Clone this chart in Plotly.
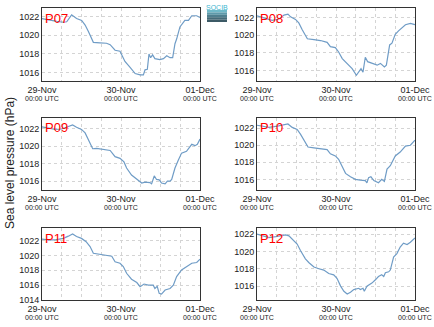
import plotly.graph_objects as go
import pandas as pd

start = pd.Timestamp("2015-11-29 00:00")

stations = ["P07", "P08", "P09", "P10", "P11", "P12"]

# hours since 29-Nov 00:00 UTC and sea level pressure (hPa)
p07_h = [0, 2.4, 4.5, 6.5, 7.5, 9.0, 10.5, 12.05, 13.1, 14.1, 15.1, 15.6, 17.6, 19.6, 20.7, 22.2, 23.7, 25.2, 26.7, 28.3, 29.8, 30.8, 31.3, 32.0, 32.5, 33.0, 33.6, 34.3, 35.8, 36.9, 37.9, 38.9, 39.7, 40.4, 40.9, 41.9, 43.4, 44.5, 45.5, 47.0, 48]
p07_p = [1021.8, 1021.6, 1021.5, 1021.4, 1021.45, 1022.2, 1021.8, 1021.6, 1021.1, 1020.4, 1019.7, 1019.25, 1019.2, 1019.15, 1019.0, 1018.4, 1018.3, 1017.2, 1016.6, 1015.9, 1015.75, 1015.75, 1016.3, 1016.35, 1018.0, 1017.6, 1017.9, 1017.5, 1017.4, 1017.5, 1017.8, 1017.6, 1017.6, 1019.1, 1019.6, 1020.9, 1021.6, 1021.6, 1022.1, 1022.1, 1021.9]

p08_h = [0, 1.6, 3.1, 4.6, 6.7, 8.2, 9.4, 10.2, 11.7, 12.7, 13.7, 15.3, 17.3, 19.3, 21.3, 22.3, 23.8, 24.8, 25.9, 27.4, 28.9, 30.2, 30.9, 31.6, 32.2, 32.9, 33.6, 34.9, 36.5, 37.5, 38.7, 39.3, 40.3, 41.0, 42.0, 43.0, 44.0, 45.1, 46.6, 48]
p08_p = [1022.2, 1022.0, 1021.8, 1021.7, 1021.85, 1022.3, 1022.4, 1022.1, 1021.8, 1021.4, 1020.65, 1019.6, 1019.5, 1019.4, 1019.2, 1018.7, 1018.6, 1018.1, 1017.35, 1016.8, 1016.2, 1015.45, 1015.8, 1016.2, 1015.8, 1017.5, 1017.0, 1016.85, 1016.6, 1016.8, 1016.4, 1016.6, 1018.9, 1019.1, 1020.1, 1020.5, 1020.85, 1021.2, 1021.35, 1021.2]

p09_h = [0, 1.9, 4.0, 6.0, 7.5, 9.3, 10.5, 12.0, 13.1, 14.1, 15.4, 16.6, 18.6, 20.7, 22.2, 23.7, 24.9, 25.7, 27.2, 28.8, 30.3, 31.3, 32.8, 33.3, 34.1, 34.8, 35.6, 36.3, 37.4, 38.1, 38.9, 39.4, 40.4, 41.4, 42.4, 43.9, 45.5, 46.5, 47.2, 48]
p09_p = [1022.2, 1022.05, 1021.9, 1021.95, 1022.15, 1022.4, 1022.15, 1021.9, 1021.5, 1020.7, 1019.7, 1019.75, 1019.65, 1019.5, 1018.8, 1018.6, 1018.2, 1017.5, 1016.7, 1016.2, 1015.8, 1015.9, 1015.85, 1015.7, 1016.6, 1016.2, 1016.15, 1015.8, 1015.7, 1016.0, 1016.0, 1016.2, 1017.5, 1018.4, 1019.2, 1019.4, 1020.2, 1020.05, 1020.2, 1020.8]

p10_h = [0, 1.6, 3.6, 6.2, 8.2, 9.4, 10.7, 12.2, 13.2, 14.2, 15.5, 17.3, 19.3, 21.3, 22.3, 23.8, 24.8, 25.9, 26.9, 28.4, 29.9, 31.4, 32.9, 33.4, 33.9, 34.6, 35.5, 36.9, 37.9, 38.7, 39.5, 40.5, 42.0, 43.5, 45.1, 46.6, 48]
p10_p = [1022.35, 1022.25, 1022.1, 1022.25, 1022.45, 1022.5, 1022.1, 1021.85, 1021.3, 1020.6, 1019.8, 1019.7, 1019.6, 1019.5, 1019.0, 1018.75, 1018.35, 1017.4, 1016.7, 1016.3, 1016.0, 1015.9, 1015.85, 1015.6, 1016.2, 1016.3, 1015.85, 1015.6, 1016.0, 1015.75, 1017.2, 1017.6, 1018.75, 1019.2, 1019.9, 1020.0, 1020.6]

p11_h = [0, 1.9, 4.0, 6.5, 8.0, 9.3, 10.5, 12.0, 13.4, 14.6, 15.6, 17.1, 19.1, 21.2, 22.2, 23.7, 24.7, 25.7, 27.2, 28.8, 29.8, 31.0, 32.3, 33.8, 34.3, 35.0, 35.6, 36.3, 37.4, 38.9, 39.9, 40.9, 42.4, 43.9, 45.5, 47.0, 48]
p11_p = [1022.2, 1022.1, 1022.1, 1022.3, 1022.6, 1022.9, 1022.55, 1022.3, 1021.85, 1021.2, 1020.3, 1020.2, 1020.05, 1019.9, 1019.15, 1018.95, 1018.5, 1017.6, 1016.8, 1016.35, 1015.8, 1016.15, 1016.0, 1016.0, 1015.55, 1015.85, 1014.9, 1014.8, 1015.35, 1015.55, 1016.0, 1017.15, 1018.05, 1018.5, 1018.95, 1019.05, 1019.5]

p12_h = [0, 1.6, 3.6, 5.7, 7.2, 8.7, 9.7, 11.2, 12.2, 13.2, 14.7, 15.8, 17.3, 18.8, 20.3, 21.8, 23.3, 24.3, 25.4, 26.4, 27.4, 28.4, 29.4, 30.9, 31.4, 32.2, 32.6, 33.4, 34.9, 35.9, 36.9, 37.9, 38.5, 39.0, 40.0, 40.5, 41.5, 42.5, 43.5, 44.5, 45.6, 46.6, 48]
p12_p = [1022.0, 1021.8, 1021.6, 1021.7, 1021.8, 1021.9, 1021.8, 1021.25, 1020.85, 1020.1, 1019.15, 1018.7, 1018.2, 1018.0, 1017.85, 1017.45, 1017.3, 1016.9, 1016.0, 1015.4, 1015.1, 1015.3, 1015.6, 1015.75, 1015.6, 1015.75, 1015.4, 1016.0, 1016.35, 1016.7, 1017.1, 1017.3, 1017.1, 1017.55, 1017.65, 1017.85, 1019.35, 1019.75, 1020.5, 1020.95, 1020.8, 1021.05, 1021.55]

hours = [p07_h, p08_h, p09_h, p10_h, p11_h, p12_h]
press = [p07_p, p08_p, p09_p, p10_p, p11_p, p12_p]

y_ranges = [[1015.1, 1022.93], [1014.8, 1023.1], [1015.0, 1023.2], [1014.75, 1023.2], [1014.0, 1023.7], [1014.4, 1022.7]]
y_ticks = [[1016, 1018, 1020, 1022]] * 4 + [[1014, 1016, 1018, 1020, 1022], [1016, 1018, 1020, 1022]]

tick_dates = [start, start + pd.Timedelta(hours=24), start + pd.Timedelta(hours=48)]
tick_days = ["29-Nov", "30-Nov", "01-Dec"]
tick_sub = "00:00 UTC"

W, H = 434, 327
col_x = [(42, 200), (257, 415)]
row_y = [(8, 81), (118, 190), (228, 300)]

FONT = "Liberation Sans"
line_color = "#6f9cc6"
grid_color = "#d4d4d4"

fig = go.Figure()
layout = dict(width=W, height=H, margin=dict(l=0, r=0, t=0, b=0, autoexpand=False),
              paper_bgcolor="white", plot_bgcolor="white", showlegend=False,
              font=dict(family=FONT, size=9, color="#222"))
annotations = []
shapes = []

for i, name in enumerate(stations):
    r, c = divmod(i, 2)
    x0, x1 = col_x[c]
    y0, y1 = row_y[r]
    xa = "xaxis" if i == 0 else f"xaxis{i+1}"
    ya = "yaxis" if i == 0 else f"yaxis{i+1}"
    xr = "x" if i == 0 else f"x{i+1}"
    yr = "y" if i == 0 else f"y{i+1}"
    times = [start + pd.Timedelta(hours=h) for h in hours[i]]
    fig.add_trace(go.Scatter(x=times, y=press[i], mode="lines",
                             line=dict(color=line_color, width=1.2),
                             xaxis=xr, yaxis=yr))
    layout[xa] = dict(domain=[x0 / W, x1 / W], anchor=yr, automargin=False,
                      range=[start, start + pd.Timedelta(hours=48)],
                      type="date",
                      tickmode="array", tickvals=tick_dates, ticktext=tick_days,
                      showgrid=True, gridcolor=grid_color, griddash="dot", gridwidth=1,
                      minor=dict(dtick=6 * 3600 * 1000, showgrid=True, gridcolor=grid_color,
                                 griddash="dot", gridwidth=1, ticks=""),
                      showline=True, linecolor="#333", linewidth=1, mirror=True,
                      ticks="", tickfont=dict(size=9, color="#222", family=FONT),
                      zeroline=False)
    layout[ya] = dict(domain=[1 - y1 / H, 1 - y0 / H], anchor=xr, automargin=False,
                      range=y_ranges[i], tickmode="array", tickvals=y_ticks[i],
                      ticktext=[str(v) for v in y_ticks[i]],
                      showgrid=True, gridcolor=grid_color, griddash="dot", gridwidth=1,
                      showline=True, linecolor="#333", linewidth=1, mirror=True,
                      ticks="", ticklen=0, tickfont=dict(size=9, color="#222", family=FONT),
                      zeroline=False)
    for td in tick_dates:
        annotations.append(dict(text=tick_sub, xref=xr, yref="paper",
                                x=td, y=1 - (y1 + 17.5) / H, xanchor="center", yanchor="middle",
                                showarrow=False,
                                font=dict(size=7, color="#222", family=FONT)))
    annotations.append(dict(text=name, xref="paper", yref="paper",
                            x=(x0 + 1) / W, y=1 - (y0 + 0.5) / H,
                            xanchor="left", yanchor="top", showarrow=False,
                            font=dict(size=13, color="red", family=FONT)))

annotations.append(dict(text="Sea level pressure (hPa)", xref="paper", yref="paper",
                        x=10 / W, y=1 - 163 / H, textangle=-90, showarrow=False,
                        xanchor="center", yanchor="middle",
                        font=dict(size=12, color="#222", family=FONT)))

# logo block
logo_cols = ["#6fb9c8", "#5e9aaa", "#4f7f8e", "#456b78", "#3c5a66"]
lx0, lx1, ly0, ly1 = 207, 227, 10, 22
step = (ly1 - ly0) / len(logo_cols)
for k, col in enumerate(logo_cols):
    shapes.append(dict(type="rect", xref="paper", yref="paper",
                       x0=lx0 / W, x1=lx1 / W,
                       y0=1 - (ly0 + (k + 1) * step) / H, y1=1 - (ly0 + k * step) / H,
                       fillcolor=col, line=dict(width=0)))
annotations.append(dict(text="SOCIB", xref="paper", yref="paper",
                        x=217 / W, y=1 - 2 / H, xanchor="center", yanchor="top",
                        showarrow=False, font=dict(size=7, color="#3cb6d0", family=FONT)))

layout["annotations"] = annotations
layout["shapes"] = shapes
fig.update_layout(**layout)
fig.write_html("out.html")
